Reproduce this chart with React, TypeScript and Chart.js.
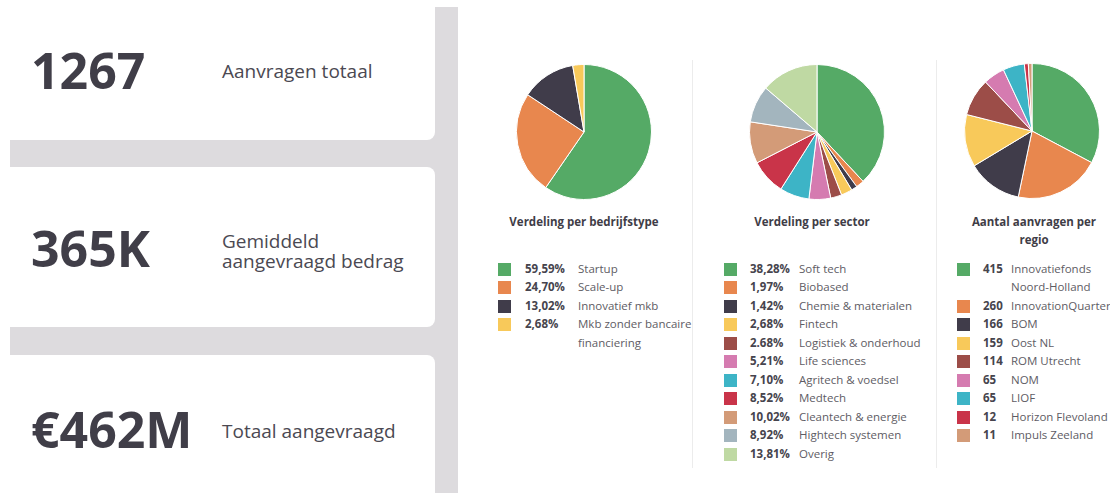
import React, { useEffect, useRef } from "react";
import { Chart, registerables } from "chart.js";

Chart.register(...registerables);

// ---- Data ----
const kpiValues = ["1267", "365K", "€462M"];
const kpiLabels = ["Aanvragen totaal", "Gemiddeld aangevraagd bedrag", "Totaal aangevraagd"];

const typeLabels = ["Startup", "Scale-up", "Innovatief mkb", "Mkb zonder bancaire financiering"];
const typeValues = [59.59, 24.7, 13.02, 2.68];
const typeValueTexts = ["59,59%", "24,70%", "13,02%", "2,68%"];

const sectorLabels = [
  "Soft tech",
  "Biobased",
  "Chemie & materialen",
  "Fintech",
  "Logistiek & onderhoud",
  "Life sciences",
  "Agritech & voedsel",
  "Medtech",
  "Cleantech & energie",
  "Hightech systemen",
  "Overig",
];
const sectorValues = [38.28, 1.97, 1.42, 2.68, 2.68, 5.21, 7.1, 8.52, 10.02, 8.92, 13.81];
const sectorValueTexts = ["38,28%", "1,97%", "1,42%", "2,68%", "2.68%", "5,21%", "7,10%", "8,52%", "10,02%", "8,92%", "13,81%"];

const regionLabels = [
  "Innovatiefonds Noord-Holland",
  "InnovationQuarter",
  "BOM",
  "Oost NL",
  "ROM Utrecht",
  "NOM",
  "LIOF",
  "Horizon Flevoland",
  "Impuls Zeeland",
];
const regionValues = [415, 260, 166, 159, 114, 65, 65, 12, 11];

const palette = [
  "#55AA66",
  "#E8874E",
  "#403C4A",
  "#F8C95A",
  "#9C4D48",
  "#D57BB0",
  "#3DB4C6",
  "#C93449",
  "#D39B78",
  "#A3B5BE",
  "#BFD9A3",
];

const titles = ["Verdeling per bedrijfstype", "Verdeling per sector", "Aantal aanvragen per regio"];

// ---- Components ----
function Pie({ values, labels, left, top, size }: { values: number[]; labels: string[]; left: number; top: number; size: number }) {
  const ref = useRef<HTMLCanvasElement | null>(null);
  useEffect(() => {
    if (!ref.current) return;
    const chart = new Chart(ref.current, {
      type: "pie",
      data: {
        labels,
        datasets: [
          {
            data: values,
            backgroundColor: palette.slice(0, values.length),
            borderColor: "#ffffff",
            borderWidth: 1,
          },
        ],
      },
      options: {
        responsive: false,
        animation: false,
        layout: { padding: 0 },
        plugins: { legend: { display: false }, tooltip: { enabled: false } },
      },
    });
    return () => chart.destroy();
  }, []);
  return (
    <canvas
      ref={ref}
      width={size}
      height={size}
      style={{ position: "absolute", left, top, width: size, height: size }}
    />
  );
}

function Legend({
  left,
  top,
  valueTexts,
  labels,
  valueX,
  labelX,
  labelWidth,
}: {
  left: number;
  top: number;
  valueTexts: string[];
  labels: string[];
  valueX: number;
  labelX: number;
  labelWidth: number;
}) {
  return (
    <div style={{ position: "absolute", left, top }}>
      {labels.map((l, i) => (
        <div key={i} style={{ position: "relative", lineHeight: "18.5px", fontSize: 11.5 }}>
          <div
            style={{
              position: "absolute",
              left: 0,
              top: 2.75,
              width: 13,
              height: 13,
              background: palette[i],
            }}
          />
          <div style={{ position: "absolute", left: valueX, top: 0, fontWeight: 700, color: "#46444D" }}>{valueTexts[i]}</div>
          <div style={{ marginLeft: labelX, width: labelWidth, color: "#5E5C64" }}>{l}</div>
        </div>
      ))}
    </div>
  );
}

export default function App() {
  const numStyle: React.CSSProperties = {
    position: "absolute",
    left: 31,
    fontSize: 50,
    lineHeight: "60px",
    fontWeight: 700,
    color: "#403E48",
    whiteSpace: "nowrap",
  };
  const labStyle: React.CSSProperties = {
    position: "absolute",
    left: 222,
    fontSize: 19,
    lineHeight: "20px",
    color: "#4B4952",
    width: 200,
  };
  const titleStyle: React.CSSProperties = {
    position: "absolute",
    fontSize: 11.5,
    fontWeight: 700,
    lineHeight: "18px",
    color: "#3F3D47",
    textAlign: "center",
  };
  const numTops = [40, 218, 399];
  const labTops = [61, 231, 421];
  const cardTops = [-10, 167, 355];
  const cardHeights = [150, 160, 160];
  return (
    <div
      style={{
        position: "absolute",
        left: 0,
        top: 0,
        width: 1110,
        height: 493,
        background: "#ffffff",
        overflow: "hidden",
        fontFamily: '"Open Sans", sans-serif',
      }}
    >
      <div style={{ position: "absolute", left: 10, top: 7, width: 448, height: 500, background: "#DDDBDE" }} />
      {cardTops.map((t, i) => (
        <div
          key={i}
          style={{
            position: "absolute",
            left: 0,
            top: t,
            width: 435,
            height: cardHeights[i],
            background: "#ffffff",
            borderRadius: "0 8px 8px 0",
          }}
        />
      ))}
      {kpiValues.map((v, i) => (
        <div key={"n" + i} style={{ ...numStyle, top: numTops[i] }}>
          {v}
        </div>
      ))}
      {kpiLabels.map((v, i) => (
        <div key={"l" + i} style={{ ...labStyle, top: labTops[i], width: i === 1 ? 190 : 200 }}>
          {v}
        </div>
      ))}

      <div style={{ position: "absolute", left: 692, top: 60, width: 1, height: 408, background: "#ECECEC" }} />
      <div style={{ position: "absolute", left: 936, top: 60, width: 1, height: 408, background: "#ECECEC" }} />

      <Pie values={typeValues} labels={typeLabels} left={515.5} top={63.5} size={136} />
      <Pie values={sectorValues} labels={sectorLabels} left={749} top={63.5} size={136} />
      <Pie values={regionValues} labels={regionLabels} left={963.5} top={62.5} size={136} />

      <div style={{ ...titleStyle, left: 504, top: 213, width: 160 }}>{titles[0]}</div>
      <div style={{ ...titleStyle, left: 742, top: 213, width: 140 }}>{titles[1]}</div>
      <div style={{ ...titleStyle, left: 966, top: 213, width: 136 }}>{titles[2]}</div>

      <Legend left={498} top={259.75} valueTexts={typeValueTexts} labels={typeLabels} valueX={27} labelX={80} labelWidth={124} />
      <Legend left={724} top={259.75} valueTexts={sectorValueTexts} labels={sectorLabels} valueX={26} labelX={75} labelWidth={140} />
      <Legend
        left={957}
        top={259.75}
        valueTexts={regionValues.map((v) => String(v))}
        labels={regionLabels}
        valueX={26}
        labelX={54}
        labelWidth={98}
      />
    </div>
  );
}
